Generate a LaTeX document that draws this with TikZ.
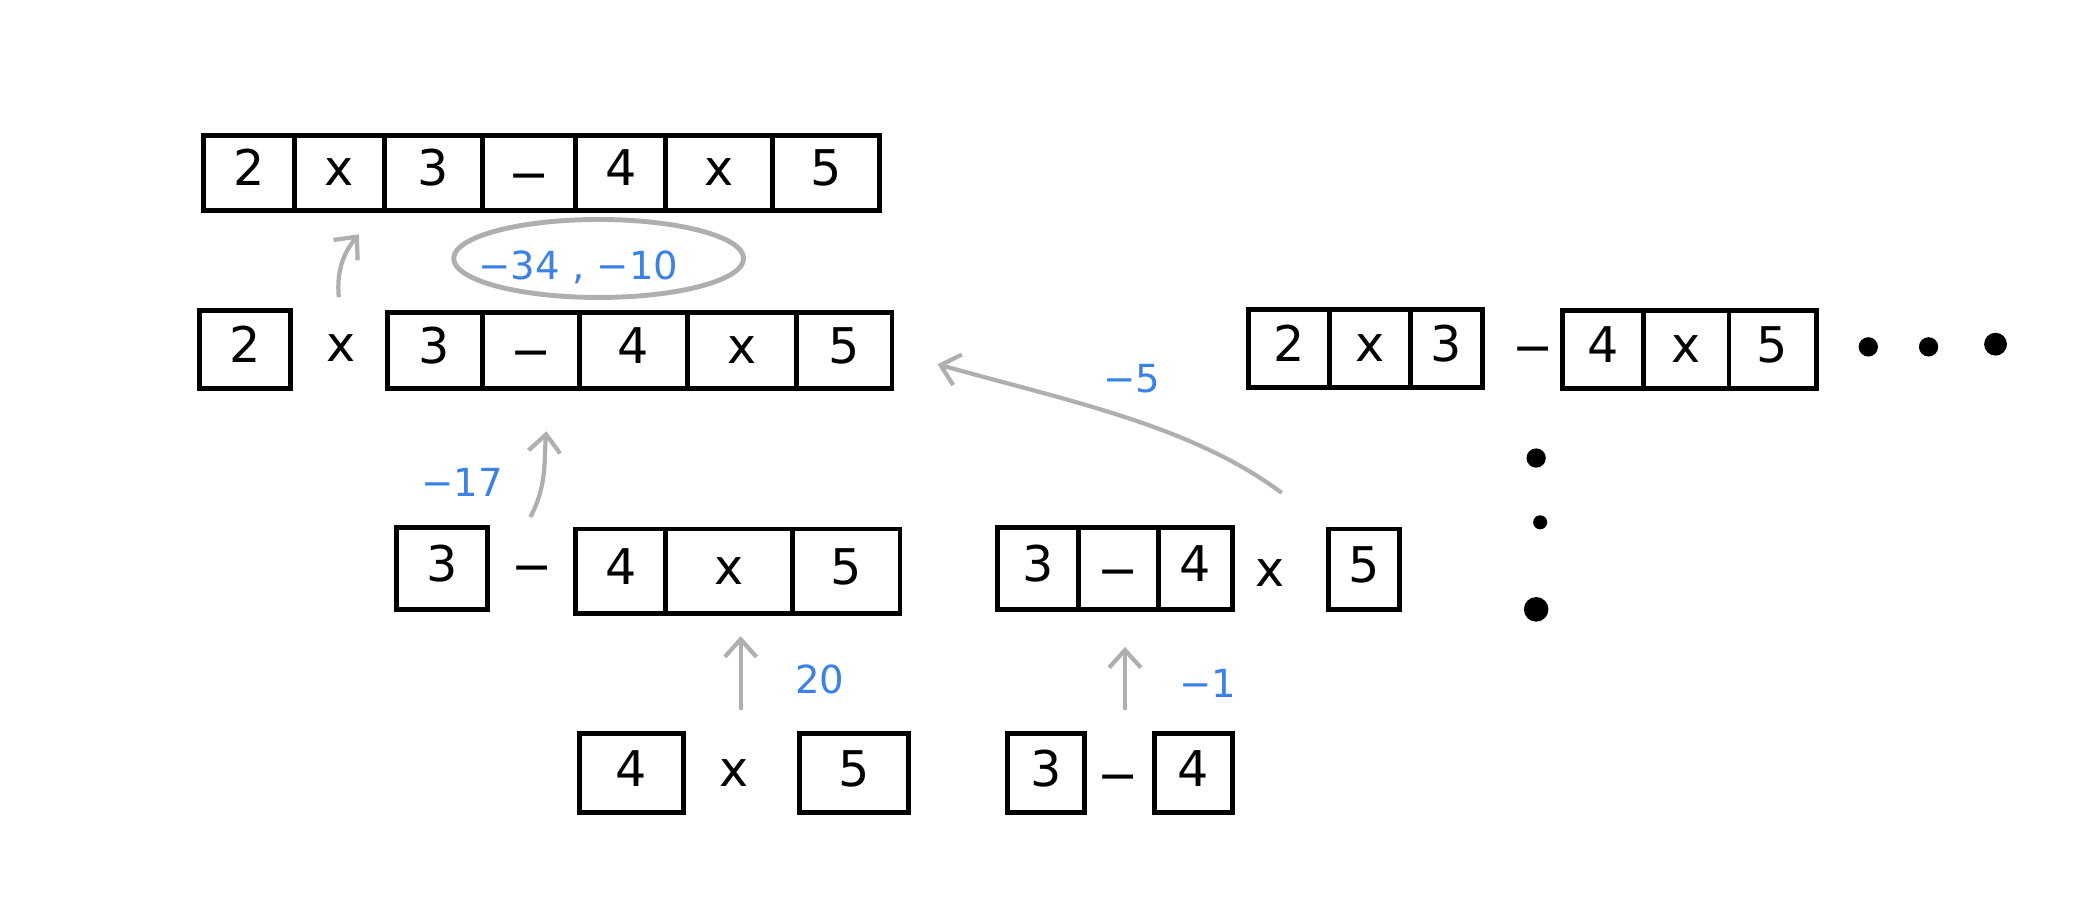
\documentclass[tikz,border=0pt]{standalone}
\usepackage{fontspec}
\setmainfont{DejaVu Sans}
\usetikzlibrary{fit,shapes.geometric,arrows.meta}
\definecolor{lblue}{RGB}{60,130,230}
\definecolor{lgray}{RGB}{175,175,175}
\newcommand\mysub{\raisebox{-0.12em}{−}}
\tikzset{
  cell/.style={draw=black, line width=1.4pt, inner sep=0pt},
  every label/.style={inner sep=0pt, text height=0.73em, text depth=0pt, font=\fontsize{14}{16}\selectfont},
  optext/.style={inner sep=0pt, text height=0.73em, text depth=0pt, font=\fontsize{14}{16}\selectfont},
  val/.style={inner sep=0pt, text=lblue, font=\fontsize{11}{13}\selectfont},
  conn/.style={draw=lgray, line width=1.2pt, -{Straight Barb[length=5pt,width=9pt]}},
  bigdot/.style={circle, fill=black, inner sep=0pt}
}
\begin{document}
\begin{tikzpicture}[x=0.013393cm, y=-0.013393cm]
\useasboundingbox (0,0) rectangle (1568,683);
% top row
\node[cell, fit={(152,101) (220,157)}, label=center:2] (t1) {};
\node[cell, fit={(220,101) (287,157)}, label=center:x] (t2) {};
\node[cell, fit={(287,101) (360,157)}, label=center:3] (t3) {};
\node[cell, fit={(360,101) (430,157)}, label=center:\mysub] (t4) {};
\node[cell, fit={(430,101) (497,157)}, label=center:4] (t5) {};
\node[cell, fit={(497,101) (577,157)}, label=center:x] (t6) {};
\node[cell, fit={(577,101) (657,157)}, label=center:5] (t7) {};
% ellipse with values
\node[draw=lgray, line width=1.4pt, ellipse, minimum width=2.9cm, minimum height=0.78cm] (ell) at (447,193) {};
\node[val] (v34) at (432,200) {−34 , −10};
% row 2
\node[cell, fit={(149,232) (217,290)}, label=center:2] (m0) {};
\node[optext] (mx) at (255,260) {x};
\node[cell, fit={(289,233) (360,290)}, label=center:3] (m1) {};
\node[cell, fit={(360,233) (433,290)}, label=center:\mysub] (m2) {};
\node[cell, fit={(433,233) (513,290)}, label=center:4] (m3) {};
\node[cell, fit={(513,233) (595,290)}, label=center:x] (m4) {};
\node[cell, fit={(595,233) (666,290)}, label=center:5] (m5) {};
% right group
\node[cell, fit={(932,231) (993,289)}, label=center:2] (r1) {};
\node[cell, fit={(993,231) (1053,289)}, label=center:x] (r2) {};
\node[cell, fit={(1053,231) (1107,289)}, label=center:3] (r3) {};
\node[optext] (rm) at (1145,258) {\mysub};
\node[cell, fit={(1167,232) (1227,290)}, label=center:4] (r4) {};
\node[cell, fit={(1227,232) (1291,290)}, label=center:x] (r5) {};
\node[cell, fit={(1291,232) (1356,290)}, label=center:5] (r6) {};
\node[bigdot, minimum size=5.5pt] (h1) at (1395,259) {};
\node[bigdot, minimum size=5.5pt] (h2) at (1440,259) {};
\node[bigdot, minimum size=6.5pt] (h3) at (1490,257) {};
\node[bigdot, minimum size=5.5pt] (w1) at (1147,342) {};
\node[bigdot, minimum size=4pt] (w2) at (1150,390) {};
\node[bigdot, minimum size=7pt] (w3) at (1147,455) {};
% row 3
\node[cell, fit={(296,394) (364,455)}, label=center:3] (a0) {};
\node[optext] (am) at (397,422) {\mysub};
\node[cell, fit={(430,395) (497,458)}, label=center:4] (a1) {};
\node[cell, fit={(497,395) (592,458)}, label=center:x] (a2) {};
\node[cell, fit={(592,395) (672,458)}, label=center:5] (a3) {};
\node[cell, fit={(745,394) (805,455)}, label=center:3] (b1) {};
\node[cell, fit={(805,394) (865,455)}, label=center:\mysub] (b2) {};
\node[cell, fit={(865,394) (920,455)}, label=center:4] (b3) {};
\node[optext] (bx) at (948,428) {x};
\node[cell, fit={(992,395) (1045,455)}, label=center:5] (b4) {};
% row 4
\node[cell, fit={(433,548) (510,607)}, label=center:4] (c1) {};
\node[optext] (cx) at (548,578) {x};
\node[cell, fit={(597,548) (678,607)}, label=center:5] (c2) {};
\node[cell, fit={(752,548) (810,607)}, label=center:3] (d1) {};
\node[optext] (dm) at (835,578) {\mysub};
\node[cell, fit={(862,548) (920,607)}, label=center:4] (d2) {};
% connector end points
\coordinate (s1) at (253,222); \coordinate (e1) at (268,175);
\coordinate (s2) at (957,368); \coordinate (e2) at (700,272);
\coordinate (s3) at (396,386); \coordinate (e3) at (408,322);
\coordinate (s4) at (553,530); \coordinate (e4) at (553,475);
\coordinate (s5) at (840,530); \coordinate (e5) at (840,483);
% connectors
\draw[conn] (s1) .. controls (251,202) and (257,188) .. (e1);
\draw[conn] (s2) .. controls (890,318) and (800,300) .. (e2);
\draw[conn] (s3) .. controls (409,362) and (406,342) .. (e3);
\draw[conn] (s4) -- (e4);
\draw[conn] (s5) -- (e5);
% values
\node[val] (v5) at (845,283) {−5};
\node[val] (v17) at (345,360) {−17};
\node[val] (v20) at (612,507) {20};
\node[val] (v1) at (902,510) {−1};
\end{tikzpicture}
\end{document}
